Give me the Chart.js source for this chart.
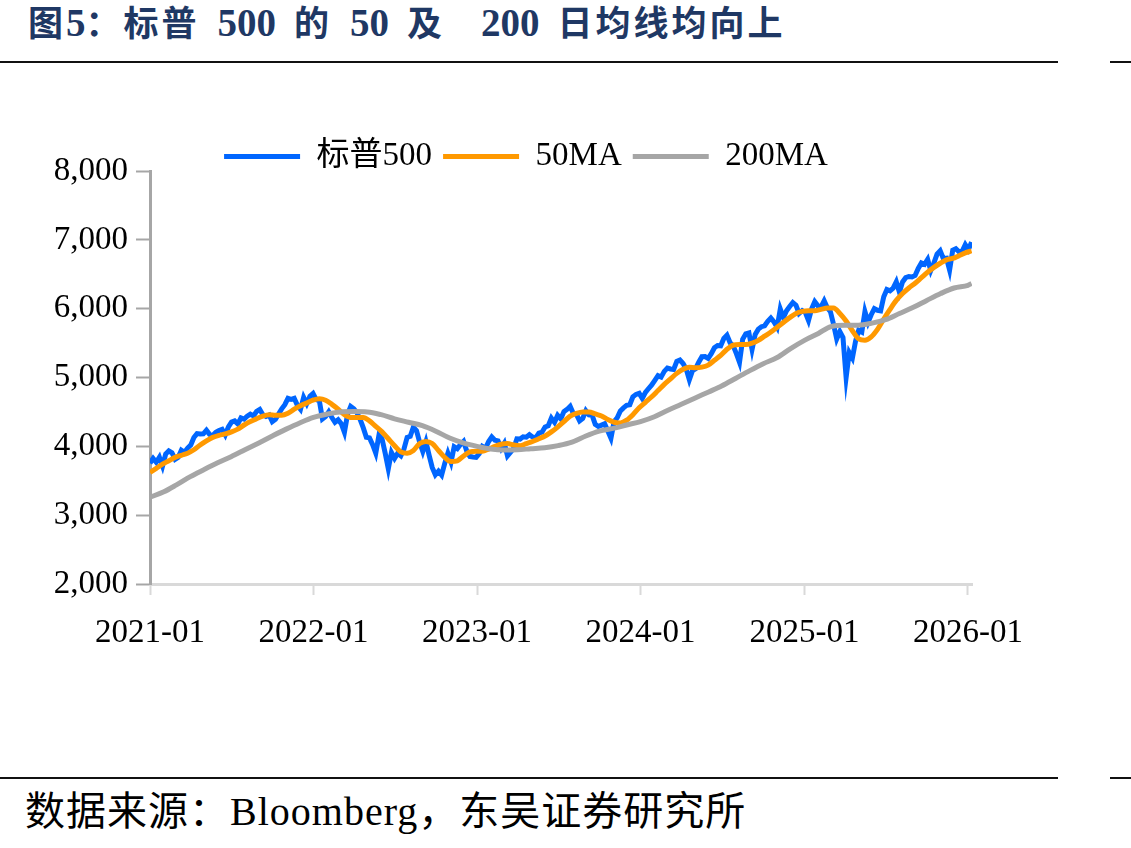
<!DOCTYPE html>
<html><head><meta charset="utf-8">
<script src="https://cdn.jsdelivr.net/npm/chart.js@4.4.1/dist/chart.umd.min.js"></script>
<style>
html,body{margin:0;padding:0;background:#fff;width:1131px;height:848px;overflow:hidden;position:relative;}
.title{position:absolute;left:28px;top:1px;font:bold 35px "Liberation Serif","Noto Sans CJK SC";letter-spacing:3px;color:#1F3864;white-space:pre;line-height:44px;}
.title .d{font-size:39px;letter-spacing:0;}
.title .s{display:inline-block;width:18px;}
.rule{position:absolute;height:2px;background:#111;}
.src{position:absolute;left:25px;top:788px;font:40px "Liberation Serif","Noto Sans CJK SC";letter-spacing:1px;color:#000;white-space:pre;line-height:48px;}
#wrap{position:absolute;left:0;top:117px;width:1131px;height:553px;}
</style></head>
<body>
<div class="title">图<span class="d">5</span>：标普<span class="s"></span><span class="d">500</span><span class="s"></span>的<span class="s"></span><span class="d">50</span><span class="s"></span>及<span class="s"></span><span class="s"></span><span class="d">200</span><span class="s"></span>日均线均向上</div>
<div class="rule" style="left:0;top:61px;width:1058px"></div>
<div class="rule" style="left:1110px;top:61px;width:21px"></div>
<div id="wrap"><canvas id="c"></canvas></div>
<div class="rule" style="left:0;top:777px;width:1058px"></div>
<div class="rule" style="left:1110px;top:777px;width:21px"></div>
<div class="src">数据来源：Bloomberg，东吴证券研究所</div>
<script>
// ---- data ----
const seriesNames = ['标普500', '50MA', '200MA'];
const yearTickLabels = ['2021-01', '2022-01', '2023-01', '2024-01', '2025-01', '2026-01'];

// S&P 500, weekly (Fridays) from 2021-01-01
const spxStart = '2021-01-01';
const spx = [
  3756,3825,3768,3841,3714, 3887,3934,3907,3811, 3842,3943,3913,3975, 4020,4129,4185,4180,4181,
  4233,4174,4156,4204, 4230,4247,4166,4281, 4352,4370,4327,4412,4395, 4437,4468,4442,4509,
  4535,4459,4433,4455, 4357,4391,4471,4545,4605, 4697,4682,4698,4595, 4538,4712,4620,4726,4766,
  4677,4663,4398,4432, 4501,4419,4349,4385, 4329,4204,4463,4580, 4546,4488,4392,4272,4132,
  4123,4024,3901,4158, 4109,3901,3675,3912, 3825,3899,3863,3962,4130, 4145,4280,4228,4058,
  3924,4067,3873,3693,3586, 3640,3583,3753,3901, 3771,3993,3965,4026, 4072,3934,3852,3845,3840,
  3895,3999,3973,4071, 4136,4090,4079,3970, 4046,3862,3917,3971,4109, 4105,4138,4133,4169,
  4136,4124,4192,4205, 4282,4299,4410,4348,4450, 4399,4505,4536,4582, 4478,4464,4370,4406,
  4516,4457,4450,4320,4288, 4308,4327,4224,4117, 4358,4415,4514,4559, 4595,4604,4719,4755,4770,
  4697,4784,4840,4891, 4959,5027,5006,5089, 5137,5124,5117,5234,5254, 5204,5123,4967,5100,
  5128,5223,5303,5305,5278, 5347,5432,5465,5460, 5567,5615,5505,5459, 5346,5220,5554,5634,5648,
  5408,5626,5703,5738, 5751,5815,5864,5808, 5729,5995,5870,5969,6032, 6090,6051,5931,5971,
  5942,5827,5997,6101,6041, 6026,6115,6013,5955, 5770,5560,5668,5581, 5000,5363,5283,5525,
  5686,5660,5958,5803,5912, 6000,5977,5968,6173, 6279,6260,6297,6389, 6238,6389,6450,6467,6460,
  6482,6584,6664,6644, 6716,6553,6664,6792,6840, 6729,6734,6560,6849, 6870,6827,6834,6930,
  6858,6966
];

// 50-day moving average, every two weeks from 2021-01-01
const ma50Start = '2021-01-01';
const ma50 = [
  3620,3680,3740,3790,3840,3870,3900,3950,4020,4080,4130,4160,4180,4210,4250,4310,4360,4400,4440,4460,4450,4450,4480,4540,4590,4630,4670,
  4690,4670,4610,4540,4460,4420,4420,4420,4370,4290,4210,4110,4010,3920,3900,3940,4040,4070,4040,3940,3840,3780,3790,3860,3920,3930,
  3930,3960,4000,4030,4040,4020,4010,4040,4070,4110,4150,4210,4280,4360,4440,4480,4500,4500,4470,4440,4390,4350,4340,4380,4460,4560,
  4640,4720,4810,4900,4980,5060,5120,5150,5140,5150,5180,5250,5320,5410,5470,5480,5480,5500,5540,5600,5660,5730,5800,5870,5930,5960,
  5970,5970,5990,6010,6010,5930,5820,5680,5560,5540,5590,5700,5850,5990,6120,6220,6300,6370,6450,6530,6600,6660,6710,6730,6770,6810,
  6840
];

// 200-day moving average, first day of each month 2021-01 .. 2026-01, plus last day
const ma200StartYear = 2021;
const ma200 = [
  3260,3340,3440,3560,3660,3760,3850,3950,4050,4150,4250,4340,
  4420,4470,4500,4505,4500,4460,4400,4350,4300,4220,4120,4050,
  4000,3960,3945,3950,3965,3980,4010,4060,4150,4220,4260,4310,
  4360,4430,4520,4610,4700,4790,4880,4990,5100,5200,5290,5420,
  5540,5640,5740,5760,5760,5790,5840,5930,6020,6120,6220,6300,
  6340
];
const ma200EndDate = '2026-01-09';
const ma200EndValue = 6365;

const yMin = 2000, yMax = 8000, yStep = 1000;
const xMinDate = '2021-01-01', xMaxDate = '2026-01-10';

// ---- build datasets ----
const DAY = 86400000;
const t0 = Date.parse(spxStart);
const spxPts = spx.map((v, i) => ({ x: t0 + i * 7 * DAY, y: v }));
const m0 = Date.parse(ma50Start);
const ma50Pts = ma50.map((v, i) => ({ x: m0 + i * 14 * DAY, y: v }));
const ma200Pts = ma200.map((v, i) => ({ x: Date.UTC(ma200StartYear, i, 1), y: v }));
ma200Pts.push({ x: Date.parse(ma200EndDate), y: ma200EndValue });
const yearTickValues = yearTickLabels.map(s => Date.parse(s + '-01'));

const FONT = '"Liberation Serif", "Noto Sans CJK SC", serif';

const legendShift = {
  id: 'legendShift',
  afterLayout(chart) {
    const l = chart.legend;
    if (!l) return;
    l.left += 40; l.right += 40; l.top += 12; l.bottom += 12;
  }
};

new Chart(document.getElementById('c'), {
  type: 'line',
  data: {
    datasets: [
      { label: seriesNames[0], data: spxPts, borderColor: '#0066FF', backgroundColor: '#0066FF', borderWidth: 5, pointRadius: 0, tension: 0, order: 3 },
      { label: seriesNames[1], data: ma50Pts, borderColor: '#FF9900', backgroundColor: '#FF9900', borderWidth: 5, pointRadius: 0, cubicInterpolationMode: 'monotone', order: 2 },
      { label: seriesNames[2], data: ma200Pts, borderColor: '#A6A6A6', backgroundColor: '#A6A6A6', borderWidth: 5, pointRadius: 0, cubicInterpolationMode: 'monotone', order: 1 }
    ]
  },
  plugins: [legendShift],
  options: {
    responsive: true,
    maintainAspectRatio: false,
    animation: false,
    layout: { padding: { left: 0, right: 159, top: 0, bottom: 0 } },
    plugins: {
      tooltip: { enabled: false },
      legend: {
        position: 'top',
        labels: {
          boxWidth: 76, boxHeight: 5, padding: 11, color: '#000',
          font: { family: FONT, size: 33 },
          sort: (a, b) => a.datasetIndex - b.datasetIndex,
          generateLabels(chart) {
            const items = Chart.defaults.plugins.legend.labels.generateLabels(chart);
            items.forEach(it => { it.lineWidth = 0; it.fillStyle = it.strokeStyle; });
            return items;
          }
        }
      }
    },
    scales: {
      x: {
        type: 'linear',
        min: Date.parse(xMinDate),
        max: Date.parse(xMaxDate),
        afterBuildTicks(scale) { scale.ticks = yearTickValues.map(v => ({ value: v })); },
        afterFit(scale) { scale.height = 86; },
        ticks: {
          autoSkip: false, maxRotation: 0, padding: 19, color: '#000',
          font: { family: FONT, size: 33 },
          callback(v, i) { return yearTickLabels[i]; }
        },
        grid: { drawOnChartArea: false, drawTicks: true, tickLength: 11, tickColor: '#D9D9D9', tickWidth: 2 },
        border: { display: true, color: '#D9D9D9', width: 3 }
      },
      y: {
        min: yMin, max: yMax,
        afterFit(scale) { scale.width = 150; },
        ticks: {
          stepSize: yStep, padding: 8, color: '#000',
          font: { family: FONT, size: 33 },
          callback(v) { return v.toLocaleString('en-US'); }
        },
        grid: { drawOnChartArea: false, drawTicks: true, tickLength: 14, tickColor: '#A6A6A6', tickWidth: 2 },
        border: { display: true, color: '#A6A6A6', width: 3 }
      }
    }
  }
});
</script>
</body></html>
